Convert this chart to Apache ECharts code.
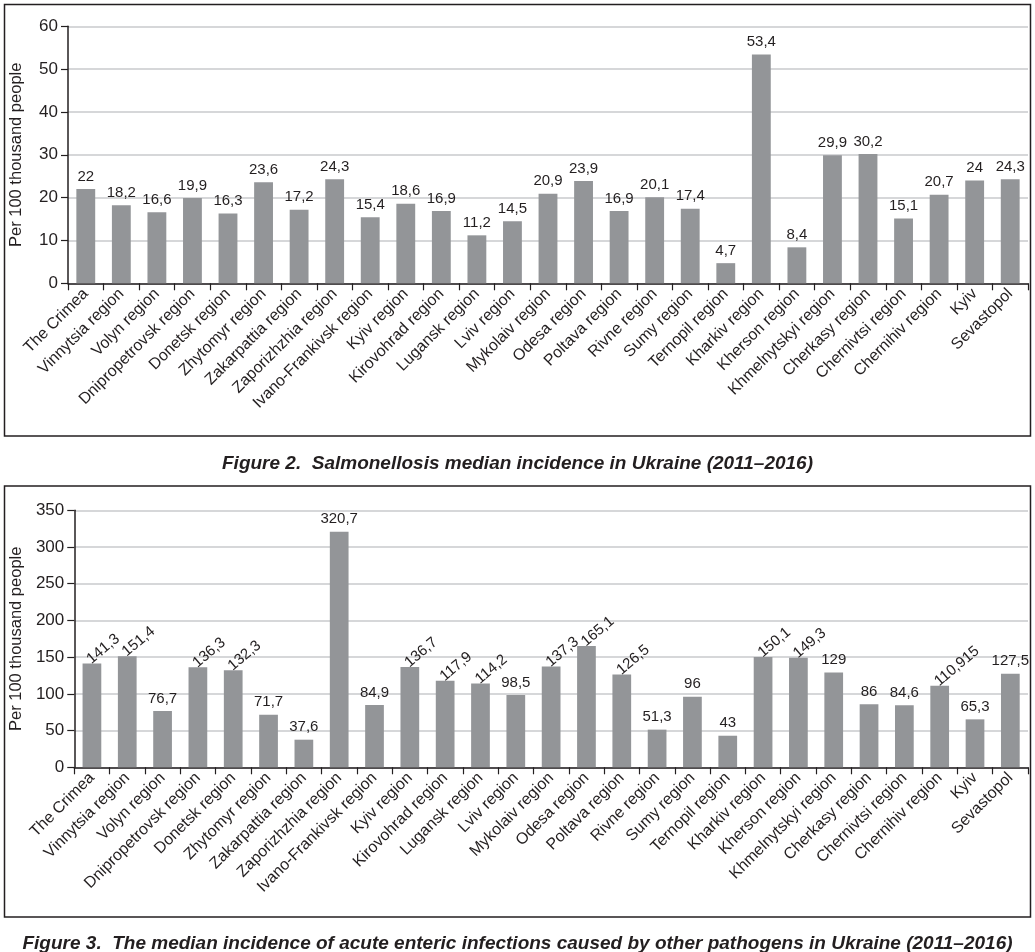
<!DOCTYPE html>
<html>
<head>
<meta charset="utf-8">
<script src="https://cdn.jsdelivr.net/npm/echarts@6/dist/echarts.min.js"></script>
<style>
html,body{margin:0;padding:0;background:#fff;}
#chart{width:1035px;height:952px;}
</style>
</head>
<body>
<div id="chart"></div>
<script>
// ---- data ----
const categories = ["The Crimea","Vinnytsia region","Volyn region","Dnipropetrovsk region","Donetsk region","Zhytomyr region","Zakarpattia region","Zaporizhzhia region","Ivano-Frankivsk region","Kyiv region","Kirovohrad region","Lugansk region","Lviv region","Mykolaiv region","Odesa region","Poltava region","Rivne region","Sumy region","Ternopil region","Kharkiv region","Kherson region","Khmelnytskyi region","Cherkasy region","Chernivtsi region","Chernihiv region","Kyiv","Sevastopol"];
const salmonellosis = [22,18.2,16.6,19.9,16.3,23.6,17.2,24.3,15.4,18.6,16.9,11.2,14.5,20.9,23.9,16.9,20.1,17.4,4.7,53.4,8.4,29.9,30.2,15.1,20.7,24,24.3];
const otherPathogens = [141.3,151.4,76.7,136.3,132.3,71.7,37.6,320.7,84.9,136.7,117.9,114.2,98.5,137.3,165.1,126.5,51.3,96,43,150.1,149.3,129,86,84.6,110.915,65.3,127.5];
const yTicks1 = {min:0,max:60,interval:10};
const yTicks2 = {min:0,max:350,interval:50};
const axisName = "Per 100 thousand people";
const caption1 = "Figure 2.  Salmonellosis median incidence in Ukraine (2011\u20132016)";
const caption2 = "Figure 3.  The median incidence of acute enteric infections caused by other pathogens in Ukraine (2011\u20132016)";

// ---- styles ----
const FONT = "Liberation Sans, Arial, sans-serif";
const DARK = "#231f20";
const BAR = "#939598";
const GRIDLINE = "#c9cacc";
const rotatedLabelIdx = [0,1,3,4,9,10,11,13,14,15,19,20,24];

function fmt(p){ return String(p.value).replace('.', ','); }

function xAxis(gridIndex){
  return {
    type:'category', gridIndex, data:categories,
    axisLine:{lineStyle:{color:DARK,width:1.5}},
    axisTick:{show:true,length:7,lineStyle:{color:DARK,width:1.2}},
    axisLabel:{interval:0,rotate:45,fontSize:16,color:DARK,fontFamily:FONT,margin:8}
  };
}
function yAxis(gridIndex, t){
  return {
    type:'value', gridIndex, min:t.min, max:t.max, interval:t.interval,
    name:axisName, nameLocation:'middle', nameGap:43,
    nameTextStyle:{fontSize:16.5,color:DARK,fontFamily:FONT},
    axisLine:{show:true,lineStyle:{color:DARK,width:1.5}},
    axisTick:{show:true,length:7,lineStyle:{color:DARK,width:1.2}},
    axisLabel:{fontSize:17,color:DARK,fontFamily:FONT,margin:10},
    splitLine:{show:true,lineStyle:{color:GRIDLINE,width:1.5}}
  };
}
const labelBase = {show:true,position:'top',distance:5,fontSize:15,color:DARK,fontFamily:FONT,formatter:fmt};

const data2 = otherPathogens.map((v,i)=> rotatedLabelIdx.includes(i)
  ? {value:v,label:{rotate:40,align:'left',verticalAlign:'middle',offset:[-4,0]}}
  : v);

const chart = echarts.init(document.getElementById('chart'), null, {renderer:'canvas'});
chart.setOption({
  animation:false,
  backgroundColor:'#fff',
  title:[
    {text:caption1,left:'center',top:449,textStyle:{fontSize:19,fontWeight:'bold',fontStyle:'italic',color:DARK,fontFamily:FONT}},
    {text:caption2,left:'center',top:929,textStyle:{fontSize:19,fontWeight:'bold',fontStyle:'italic',color:DARK,fontFamily:FONT}}
  ],
  graphic:[
    {type:'rect',shape:{x:4.5,y:4.5,width:1026,height:431.5},style:{fill:'none',stroke:DARK,lineWidth:1.5},silent:true},
    {type:'rect',shape:{x:4.5,y:486,width:1026,height:431},style:{fill:'none',stroke:DARK,lineWidth:1.5},silent:true}
  ],
  grid:[
    {left:67,top:26.3,width:961,height:257},
    {left:67,top:510.3,width:961,height:257}
  ],
  xAxis:[xAxis(0),xAxis(1)],
  yAxis:[yAxis(0,yTicks1),yAxis(1,yTicks2)],
  series:[
    {type:'bar',xAxisIndex:0,yAxisIndex:0,data:salmonellosis,barWidth:'53%',itemStyle:{color:BAR},label:labelBase},
    {type:'bar',xAxisIndex:1,yAxisIndex:1,data:data2,barWidth:'53%',itemStyle:{color:BAR},label:labelBase}
  ]
});
</script>
</body>
</html>
